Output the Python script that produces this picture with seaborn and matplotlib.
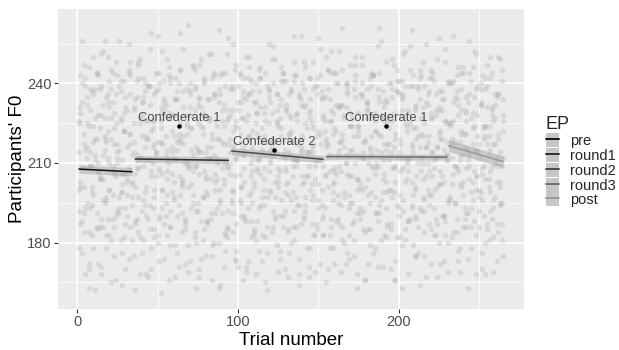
import numpy as np
import pandas as pd
import matplotlib
matplotlib.use("Agg")
import matplotlib.pyplot as plt
import seaborn as sns
from matplotlib.lines import Line2D
from matplotlib.patches import Patch
from matplotlib.ticker import FixedLocator

# ---------------- data ----------------
F0_SET1 = [214, 187, 233, 201, 168, 225, 246, 193, 209, 178,
           238, 219, 172, 204, 251, 196, 227, 183, 212, 241,
           165, 207, 229, 190, 217, 256, 199, 176, 222, 235,
           203, 244, 186, 213, 231, 162, 208, 197, 249, 220,
           181, 226, 211, 239, 194, 170, 216, 236, 205, 258,
           189, 223, 200, 174, 232, 215, 243, 192, 206, 228,
           167, 218, 240, 198, 184, 253, 210, 224, 179, 237,
           202, 195, 230, 163, 214, 247, 188, 221, 207, 175,
           234, 212, 191, 242, 180, 226, 204, 260, 196, 218,
           171, 239, 209, 185, 228, 216, 199, 245, 177, 223,
           206, 233, 166, 213, 250, 193, 220, 182, 237, 201,
           225, 188, 211, 242, 173, 208, 231, 197, 255, 215,
           184, 219, 203, 236, 169, 227, 246, 190, 212, 230,
           198, 176, 222, 209, 241, 186, 217, 164, 234, 205,
           248, 194, 214, 229, 178, 202, 238, 211, 187, 257,
           221, 200, 183, 235, 216, 170, 226, 244, 196, 208,
           232, 189, 252, 207, 219, 180, 213, 240, 174, 224,
           195, 238, 210, 168, 229, 203, 247, 185, 218, 233,
           172, 215, 199, 243, 222, 191, 209, 261, 181, 227,
           206, 234, 186, 217, 200, 249, 166, 221, 237, 193,
           228, 179, 212, 239, 204, 188, 254, 216, 198, 231,
           175, 220, 242, 192, 210, 225, 167, 236, 207, 245,
           214, 183, 230, 201, 257, 219, 190, 173, 226, 211,
           240, 197, 218, 184, 235, 208, 246, 178, 222, 203,
           189, 229, 163, 213, 241, 196, 224, 251, 205, 217,
           232, 176, 209, 238, 187, 220, 199, 244, 169, 227,
           212, 250, 195, 181, 234]

F0_SET2 = [192, 243, 176, 221, 208, 235, 163, 214, 199, 250,
           227, 185, 210, 238, 171, 204, 256, 218, 189, 231,
           245, 198, 223, 166, 212, 239, 181, 206, 229, 193,
           216, 174, 248, 202, 225, 187, 211, 242, 168, 233,
           209, 237, 190, 219, 253, 178, 226, 200, 214, 183,
           240, 161, 217, 230, 195, 207, 246, 186, 222, 212,
           179, 234, 205, 259, 191, 220, 172, 238, 201, 228,
           215, 247, 184, 209, 232, 167, 224, 197, 241, 205,
           188, 226, 251, 175, 213, 236, 193, 219, 164, 230,
           204, 244, 182, 227, 210, 196, 255, 217, 173, 239,
           221, 190, 235, 203, 169, 228, 246, 199, 212, 184,
           233, 208, 177, 242, 218, 194, 226, 162, 237, 211,
           249, 186, 215, 230, 201, 174, 223, 244, 192, 207,
           219, 236, 180, 211, 258, 197, 229, 168, 214, 240,
           189, 225, 205, 171, 234, 216, 248, 183, 220, 202,
           243, 194, 228, 212, 165, 238, 207, 252, 178, 223,
           206, 231, 187, 218, 245, 199, 172, 236, 213, 195,
           227, 181, 250, 204, 222, 189, 240, 214, 166, 232,
           198, 242, 213, 176, 229, 208, 254, 191, 220, 237,
           183, 215, 233, 200, 170, 226, 247, 209, 194, 241,
           217, 163, 235, 203, 224, 188, 212, 260, 179, 230,
           205, 239, 193, 221, 248, 175, 216, 232, 198, 185,
           244, 211, 228, 167, 237, 202, 219, 190, 253, 213,
           196, 225, 182, 241, 209, 234, 173, 218, 201, 246,
           230, 186, 215, 256, 193, 223, 207, 168, 239, 212,
           199, 243, 220, 180, 231, 204, 250, 189, 226, 210,
           173, 236, 214, 195, 228]

F0_SET3 = [225, 201, 256, 184, 239, 212, 170, 230, 194, 218,
           162, 244, 207, 223, 189, 252, 215, 178, 236, 200,
           219, 233, 186, 248, 210, 197, 227, 164, 241, 206,
           190, 255, 221, 203, 175, 234, 213, 247, 182, 228,
           242, 199, 168, 226, 211, 259, 193, 217, 237, 180,
           208, 231, 252, 187, 220, 204, 166, 240, 214, 196,
           234, 176, 219, 245, 201, 228, 189, 210, 262, 173,
           223, 207, 238, 192, 215, 170, 249, 229, 185, 212,
           198, 251, 216, 179, 235, 206, 224, 163, 243, 191,
           232, 210, 186, 257, 219, 200, 238, 174, 226, 213,
           244, 195, 227, 208, 171, 236, 250, 188, 216, 203,
           181, 229, 212, 246, 197, 220, 165, 239, 207, 233,
           218, 254, 190, 225, 205, 177, 241, 213, 199, 230,
           167, 221, 237, 186, 248, 209, 226, 194, 258, 215,
           203, 232, 178, 214, 242, 196, 223, 169, 236, 211,
           253, 189, 227, 205, 218, 245, 183, 230, 199, 172,
           222, 240, 209, 194, 261, 216, 231, 176, 205, 247,
           187, 213, 235, 163, 224, 201, 250, 192, 219, 238,
           210, 179, 244, 228, 197, 215, 171, 233, 256, 204,
           226, 193, 217, 240, 185, 208, 229, 166, 245, 212,
           198, 236, 251, 181, 222, 207, 239, 193, 214, 175,
           232, 210, 164, 243, 220, 196, 255, 218, 187, 227,
           205, 241, 189, 216, 230, 172, 234, 203, 248, 211,
           180, 225, 212, 258, 195, 237, 207, 169, 221, 244,
           216, 191, 233, 204, 178, 229, 252, 200, 214, 186,
           240, 206, 223, 168, 247, 213, 192, 231, 217, 197,
           235, 184, 249, 209, 222]

F0_SET4 = [200, 231, 188, 217, 242, 195, 224, 209, 183, 236,
           213, 191, 228, 204, 239, 186, 220, 197, 233, 210,
           181, 244, 206, 225, 192, 215, 237, 199, 222, 187,
           230, 208, 243, 194, 218, 201, 235, 184, 227, 212,
           196, 240, 219, 189, 232, 205, 223, 182, 214, 238,
           207, 226, 193, 241, 211, 198, 229, 186, 216, 203,
           234, 190, 221, 245, 202, 217, 185, 228, 209, 236,
           193, 213, 239, 180, 225, 206, 231, 197, 242, 214,
           188, 227, 204, 219, 236, 191, 210, 233, 200, 244,
           217, 183, 226, 208, 238, 195, 222, 212, 187, 230,
           243, 201, 216, 190, 234, 220, 198, 241, 207, 185,
           229, 211, 237, 194, 223, 204, 182, 218, 235, 199,
           213, 240, 189, 226, 208, 232, 196, 244, 215, 202,
           184, 221, 238, 205, 192, 228, 211, 236, 187, 219,
           231, 197, 214, 242, 200, 225, 183, 209, 239, 193,
           217, 234, 190, 222, 206, 245, 213, 186, 229, 203,
           240, 195, 218, 232, 181, 227, 210, 237, 198, 215,
           224, 188, 243, 204, 220, 193, 235, 212, 201, 230,
           185, 216, 239, 208, 226, 191, 221, 244, 196, 211,
           233, 203, 187, 228, 214, 238, 199, 219, 182, 236,
           207, 241, 192, 225, 210, 230, 189, 217, 243, 200,
           223, 186, 234, 212, 197, 239, 205, 220, 194, 229,
           242, 208, 183, 216, 231, 202, 237, 190, 226, 213,
           195, 224, 240, 206, 218, 184, 232, 211, 244, 198,
           221, 235, 191, 209, 227, 203, 188, 238, 215, 200,
           233, 196, 219, 242, 185, 224, 207, 230, 193, 217,
           209, 236, 201, 187, 226]

F0_SET5 = [226, 203, 240, 191, 215, 232, 184, 209, 237, 198,
           219, 244, 207, 186, 228, 213, 195, 235, 222, 200,
           238, 189, 217, 205, 243, 193, 226, 211, 182, 231,
           204, 221, 236, 197, 214, 188, 241, 208, 225, 192,
           233, 216, 201, 239, 185, 222, 210, 197, 244, 218,
           190, 229, 206, 234, 213, 183, 227, 242, 199, 220,
           211, 237, 194, 218, 203, 231, 187, 225, 208, 240,
           223, 198, 245, 209, 192, 235, 214, 181, 228, 204,
           216, 234, 189, 221, 243, 200, 212, 238, 195, 226,
           202, 184, 230, 217, 206, 239, 191, 224, 211, 233,
           196, 227, 213, 242, 188, 219, 236, 205, 222, 183,
           240, 207, 193, 231, 215, 200, 244, 186, 225, 210,
           229, 218, 197, 236, 203, 190, 220, 241, 208, 232,
           185, 214, 227, 199, 243, 211, 194, 235, 216, 202,
           238, 192, 223, 209, 230, 187, 217, 204, 242, 196,
           212, 237, 183, 226, 219, 201, 234, 189, 221, 207,
           244, 198, 215, 232, 186, 228, 210, 239, 193, 224,
           205, 220, 241, 191, 213, 236, 200, 218, 184, 230,
           227, 195, 209, 243, 206, 222, 188, 235, 214, 199,
           231, 182, 225, 211, 240, 197, 216, 203, 237, 190,
           219, 234, 208, 185, 229, 212, 245, 194, 223, 201,
           189, 238, 216, 227, 204, 192, 233, 210, 242, 198,
           214, 200, 236, 187, 221, 207, 230, 215, 183, 225,
           241, 196, 219, 233, 209, 189, 228, 202, 238, 213,
           193, 226, 211, 244, 186, 217, 235, 205, 220, 197,
           232, 208, 190, 224, 239, 201, 215, 228, 182, 236,
           203, 221, 194, 241, 212]

F0_SET6 = [178, 229, 208, 247, 193, 216, 172, 238, 201, 224,
           211, 186, 243, 205, 168, 232, 219, 196, 250, 183,
           227, 209, 175, 236, 214, 191, 241, 202, 222, 170,
           198, 245, 217, 181, 230, 206, 189, 248, 212, 176,
           235, 194, 220, 167, 239, 207, 226, 185, 213, 244,
           173, 218, 200, 233, 190, 249, 210, 179, 228, 197,
           242, 215, 171, 225, 204, 237, 188, 221, 169, 231,
           209, 246, 182, 216, 195, 234, 174, 223, 240, 199,
           187, 227, 212, 166, 244, 203, 219, 180, 236, 208,
           224, 177, 251, 192, 214, 230, 184, 205, 247, 171,
           218, 201, 237, 189, 226, 173, 242, 210, 195, 233,
           168, 221, 245, 206, 183, 229, 213, 176, 238, 200,
           216, 192, 249, 179, 224, 207, 234, 186, 170, 241,
           203, 228, 196, 218, 181, 243, 211, 174, 232, 220,
           190, 246, 205, 167, 227, 214, 198, 239, 185, 222,
           172, 235, 209, 193, 250, 217, 178, 226, 202, 244,
           188, 213, 231, 169, 221, 197, 240, 206, 183, 229,
           215, 175, 247, 200, 224, 191, 236, 212, 166, 233,
           204, 185, 220, 243, 178, 210, 238, 194, 228, 171,
           217, 248, 199, 223, 187, 235, 208, 173, 241, 214,
           182, 230, 196, 252, 211, 168, 225, 203, 239, 190,
           219, 176, 245, 207, 231, 184, 216, 200, 237, 172,
           227, 193, 212, 249, 180, 222, 205, 234, 188, 218,
           169, 240, 202, 226, 195, 243, 177, 213, 230, 186,
           221, 208, 174, 236, 199, 246, 215, 183, 228, 192,
           238, 170, 224, 204, 217, 181, 242, 209, 196, 232,
           187, 219, 203, 245, 175]

EP_LEVELS = ["pre", "round1", "round2", "round3", "post"]
FIT_X_START = [1, 36, 96, 155, 231]
FIT_X_END = [34, 94, 153, 230, 265]
FIT_Y_START = [207.7, 211.5, 214.5, 212.4, 216.5]
FIT_Y_END = [206.7, 211.0, 211.4, 212.2, 210.5]
FIT_CI_HALF = [1.6, 1.3, 1.4, 1.1, 2.2]

CONF_LABELS = ["Confederate 1", "Confederate 2", "Confederate 1"]
CONF_X = [63.5, 122.5, 192.0]
CONF_Y = [224.0, 214.9, 224.0]

LINE_COLORS = ["#111111", "#2e2e2e", "#4a4a4a", "#6e6e6e", "#9a9a9a"]

# ---------------- build tables ----------------
frames = []
for vals in (F0_SET1, F0_SET2, F0_SET3, F0_SET4, F0_SET5, F0_SET6):
    frames.append(pd.DataFrame({"trial": np.arange(1, len(vals) + 1), "f0": vals}))
points = pd.concat(frames, ignore_index=True)

fit = pd.DataFrame({
    "EP": EP_LEVELS * 2,
    "trial": FIT_X_START + FIT_X_END,
    "f0": FIT_Y_START + FIT_Y_END,
})

# ---------------- style ----------------
sns.set_theme(style="darkgrid", rc={
    "axes.facecolor": "#EBEBEB",
    "grid.color": "white",
    "axes.edgecolor": "none",
})
plt.rcParams["font.family"] = ["Liberation Sans", "DejaVu Sans"]

fig = plt.figure(figsize=(6.19, 3.5), dpi=100)
ax = fig.add_axes([58 / 619, 41 / 350, 466 / 619, 300 / 350])

sns.scatterplot(data=points, x="trial", y="f0", color="#a8a8a8", s=16,
                alpha=0.28, linewidth=0, ax=ax, legend=False, zorder=2)

for i, ep in enumerate(EP_LEVELS):
    xs = [FIT_X_START[i], FIT_X_END[i]]
    lo = [FIT_Y_START[i] - FIT_CI_HALF[i], FIT_Y_END[i] - FIT_CI_HALF[i]]
    hi = [FIT_Y_START[i] + FIT_CI_HALF[i], FIT_Y_END[i] + FIT_CI_HALF[i]]
    ax.fill_between(xs, lo, hi, color="#a0a0a0", alpha=0.45, lw=0, zorder=3)

sns.lineplot(data=fit, x="trial", y="f0", hue="EP", hue_order=EP_LEVELS,
             palette=dict(zip(EP_LEVELS, LINE_COLORS)), estimator=None,
             linewidth=1.1, ax=ax, legend=False, zorder=4)

ax.scatter(CONF_X, CONF_Y, color="black", s=5, zorder=5)
for lab, x, y in zip(CONF_LABELS, CONF_X, CONF_Y):
    ax.text(x, y + 3.1, lab, ha="center", va="center", fontsize=9.4,
            color="#4d4d4d", zorder=6)

ax.set_xlim(-12, 278)
ax.set_ylim(155, 268)
ax.xaxis.set_major_locator(FixedLocator([0, 100, 200]))
ax.yaxis.set_major_locator(FixedLocator([180, 210, 240]))
ax.xaxis.set_minor_locator(FixedLocator([50, 150, 250]))
ax.yaxis.set_minor_locator(FixedLocator([165, 195, 225, 255]))
ax.grid(which="major", color="white", linewidth=1.1)
ax.grid(which="minor", color="white", linewidth=0.55)
ax.set_axisbelow(True)
ax.tick_params(axis="both", which="major", bottom=True, left=True, length=3,
               width=0.8, color="#333333", labelcolor="#4d4d4d",
               labelsize=10.5, pad=1.5)
ax.tick_params(axis="both", which="minor", length=0)
for s in ax.spines.values():
    s.set_visible(False)

ax.set_xlabel("Trial number", fontsize=13.5, color="black", labelpad=2)
ax.set_ylabel("Participants' F0", fontsize=13.5, color="black", labelpad=1)

handles = [(Patch(facecolor="#c6c6c6", edgecolor="none"),
            Line2D([0], [0], color=c, lw=1.4)) for c in LINE_COLORS]
leg = fig.legend(handles, EP_LEVELS, title="EP", loc="upper left",
                 bbox_to_anchor=(534 / 619, 1 - 104 / 350), frameon=False,
                 fontsize=10.5, title_fontsize=13, handlelength=0.9,
                 handleheight=1.1, labelspacing=0.0, handletextpad=0.8,
                 alignment="left", borderpad=0.3)

fig.savefig("out.png", dpi=100)
